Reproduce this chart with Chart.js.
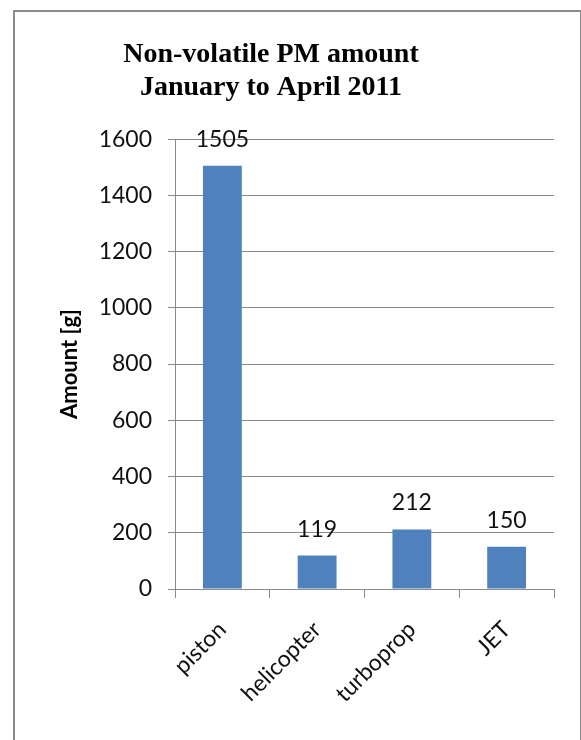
<!DOCTYPE html>
<html>
<head>
<meta charset="utf-8">
<script src="https://cdn.jsdelivr.net/npm/chart.js@4.4.0/dist/chart.umd.min.js"></script>
<style>
  html, body { margin: 0; padding: 0; background: #fff; }
  #frame {
    position: absolute; left: 13px; top: 10px; width: 565px; height: 760px;
    border: 2px solid #8c8c8c; border-bottom: none;
  }
  #wrap { position: absolute; left: 0; top: 0; width: 581px; height: 740px; }
</style>
</head>
<body>
<div id="frame"></div>
<div id="wrap"><canvas id="chart" width="581" height="740"></canvas></div>
<script>
const categories = ['piston', 'helicopter', 'turboprop', 'JET'];
const amounts = [1505, 119, 212, 150];
const yTicks = [0, 200, 400, 600, 800, 1000, 1200, 1400, 1600];

const barColor = '#4F81BD';
const gridColor = '#8a8a8a';

// draws the value above each bar, like the Excel data labels
const valueLabels = {
  id: 'valueLabels',
  afterDatasetsDraw(chart) {
    const ctx = chart.ctx;
    const meta = chart.getDatasetMeta(0);
    ctx.save();
    ctx.font = '23px Lato';
    ctx.fillStyle = '#111';
    ctx.textAlign = 'center';
    ctx.textBaseline = 'alphabetic';
    meta.data.forEach((bar, i) => {
      ctx.fillText(String(amounts[i]), bar.x, bar.y - 19);
    });
    ctx.restore();
  }
};

const ctx = document.getElementById('chart').getContext('2d');
new Chart(ctx, {
  type: 'bar',
  data: {
    labels: categories,
    datasets: [{
      data: amounts,
      backgroundColor: barColor,
      borderWidth: 0,
      categoryPercentage: 1,
      barPercentage: 0.41,
    }],
  },
  options: {
    responsive: false,
    animation: false,
    layout: { padding: { left: -12, right: 27, top: 0, bottom: 0 } },
    plugins: {
      legend: { display: false },
      tooltip: { enabled: false },
      title: {
        display: true,
        text: ['Non-volatile PM amount', 'January to April 2011'],
        color: '#000',
        font: { family: 'Liberation Serif', size: 28, weight: 'bold', lineHeight: 1.18 },
        padding: { top: 38, bottom: 35 },
      },
    },
    scales: {
      x: {
        offset: true,
        grid: { offset: true, drawOnChartArea: false, drawTicks: true, tickLength: 9, color: gridColor },
        border: { color: gridColor, width: 1 },
        ticks: {
          color: '#111',
          font: { family: 'Lato', size: 23 },
          minRotation: 45, maxRotation: 45,
          padding: 18,
        },
        afterFit(scale) { scale.height = 151; },
      },
      y: {
        min: 0, max: 1600,
        afterBuildTicks(scale) { scale.ticks = yTicks.map(v => ({ value: v })); },
        grid: { color: gridColor, tickLength: 7, drawTicks: true },
        border: { color: gridColor, width: 1 },
        ticks: {
          color: '#111',
          font: { family: 'Lato', size: 23 },
          padding: 16,
          callback: (v) => String(v),
        },
        title: {
          display: true,
          text: 'Amount [g]',
          color: '#000',
          font: { family: 'Lato', size: 22, weight: 'bold' },
          padding: { top: 69, bottom: 0 },
        },
        afterFit(scale) { scale.width = 187; },
      },
    },
  },
  plugins: [valueLabels],
});
</script>
</body>
</html>
